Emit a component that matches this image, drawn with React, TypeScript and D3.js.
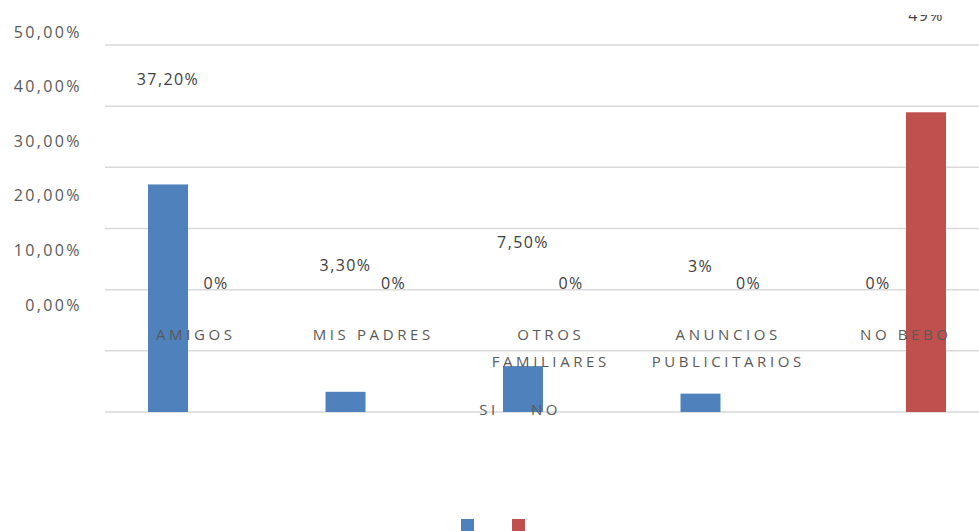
import React, { useEffect, useRef } from "react";
import * as d3 from "d3";

// data
const categories = ["AMIGOS", "MIS PADRES", "OTROS FAMILIARES", "ANUNCIOS PUBLICITARIOS", "NO BEBO"];
const categoryLines = [["AMIGOS"], ["MIS PADRES"], ["OTROS", "FAMILIARES"], ["ANUNCIOS", "PUBLICITARIOS"], ["NO BEBO"]];
const seriesNames = ["SI", "NO"];
const siValues = [37.2, 3.3, 7.5, 3, 0];
const noValues = [0, 0, 0, 0, 49];
const siLabels = ["37,20%", "3,30%", "7,50%", "3%", "0%"];
const noLabels = ["0%", "0%", "0%", "0%", "49%"];
const tickValues = [0, 10, 20, 30, 40, 50];
const tickLabels = ["0,00%", "10,00%", "20,00%", "30,00%", "40,00%", "50,00%"];
const gridValues = [0, 10, 20, 30, 40, 50, 60];
const colors = ["#4f81bd", "#c0504d"];

const W = 979;
const H = 531;
const FONT = "'Open Sans', sans-serif";
const TXT = "#595959";

export default function App() {
  const ref = useRef<SVGSVGElement>(null);

  useEffect(() => {
    const svg = d3.select(ref.current);
    svg.selectAll("*").remove();

    const y = d3.scaleLinear().domain([0, 60]).range([412, 45]); // bars + gridlines
    const yLab = d3.scaleLinear().domain([0, 50]).range([305, 32]); // axis labels / data labels (offset in the original)
    const x0 = d3.scaleBand().domain(categories).range([105, 105 + 5 * 177.5]);
    const x1 = d3.scaleBand().domain(seriesNames).range([43, 131]).paddingInner(0.1667);

    // gridlines
    svg.append("g").selectAll("line").data(gridValues).join("line")
      .attr("x1", 105).attr("x2", W)
      .attr("y1", (d) => y(d)).attr("y2", (d) => y(d))
      .attr("stroke", "#d9d9d9").attr("stroke-width", 1.5);

    // y axis labels
    svg.append("g").selectAll("text").data(tickValues).join("text")
      .attr("x", 82).attr("y", (d) => yLab(d)).attr("dy", "0.35em")
      .attr("text-anchor", "end")
      .attr("font-family", FONT).attr("font-size", 16).attr("letter-spacing", 2.4)
      .attr("fill", TXT)
      .text((d, i) => tickLabels[i]);

    const series = [siValues, noValues];
    const labels = [siLabels, noLabels];

    // bars
    series.forEach((vals, s) => {
      svg.append("g").selectAll("rect").data(vals).join("rect")
        .attr("x", (d, i) => x0(categories[i])! + x1(seriesNames[s])!)
        .attr("width", x1.bandwidth())
        .attr("y", (d) => y(d))
        .attr("height", (d) => y(0) - y(d))
        .attr("fill", colors[s]);
    });

    // category labels
    const cat = svg.append("g");
    categoryLines.forEach((lines, i) => {
      lines.forEach((ln, j) => {
        cat.append("text")
          .attr("x", x0(categories[i])! + x0.bandwidth() / 2 + 2)
          .attr("y", 335 + j * 27).attr("dy", "0.35em")
          .attr("text-anchor", "middle")
          .attr("font-family", FONT).attr("font-size", 15).attr("letter-spacing", 3.6)
          .attr("fill", TXT)
          .text(ln);
      });
    });

    // data labels
    svg.append("defs").append("clipPath").attr("id", "lblclip")
      .append("rect").attr("x", 0).attr("y", 15).attr("width", W).attr("height", H);
    const lg = svg.append("g").attr("clip-path", "url(#lblclip)");
    series.forEach((vals, s) => {
      lg.append("g").selectAll("text").data(vals).join("text")
        .attr("x", (d, i) => x0(categories[i])! + x1(seriesNames[s])! + x1.bandwidth() / 2)
        .attr("y", (d) => yLab(d) - 22).attr("dy", "0.35em")
        .attr("text-anchor", "middle")
        .attr("font-family", FONT).attr("font-size", 16).attr("letter-spacing", 1.4)
        .attr("fill", "#404040")
        .text((d, i) => labels[s][i]);
    });

    // legend (text and swatches drawn apart, as in the original)
    const leg = svg.append("g");
    seriesNames.forEach((name, i) => {
      leg.append("rect")
        .attr("x", 461 + i * 51).attr("y", 519)
        .attr("width", 13).attr("height", 13)
        .attr("fill", colors[i]);
      leg.append("text")
        .attr("x", 489 + i * 57).attr("y", 410).attr("dy", "0.35em")
        .attr("text-anchor", "middle")
        .attr("font-family", FONT).attr("font-size", 15).attr("letter-spacing", 3.6)
        .attr("fill", TXT)
        .text(name);
    });
  }, []);

  return (
    <svg
      ref={ref}
      width={W}
      height={H}
      style={{ position: "absolute", left: 0, top: 0, background: "#fff" }}
    />
  );
}
